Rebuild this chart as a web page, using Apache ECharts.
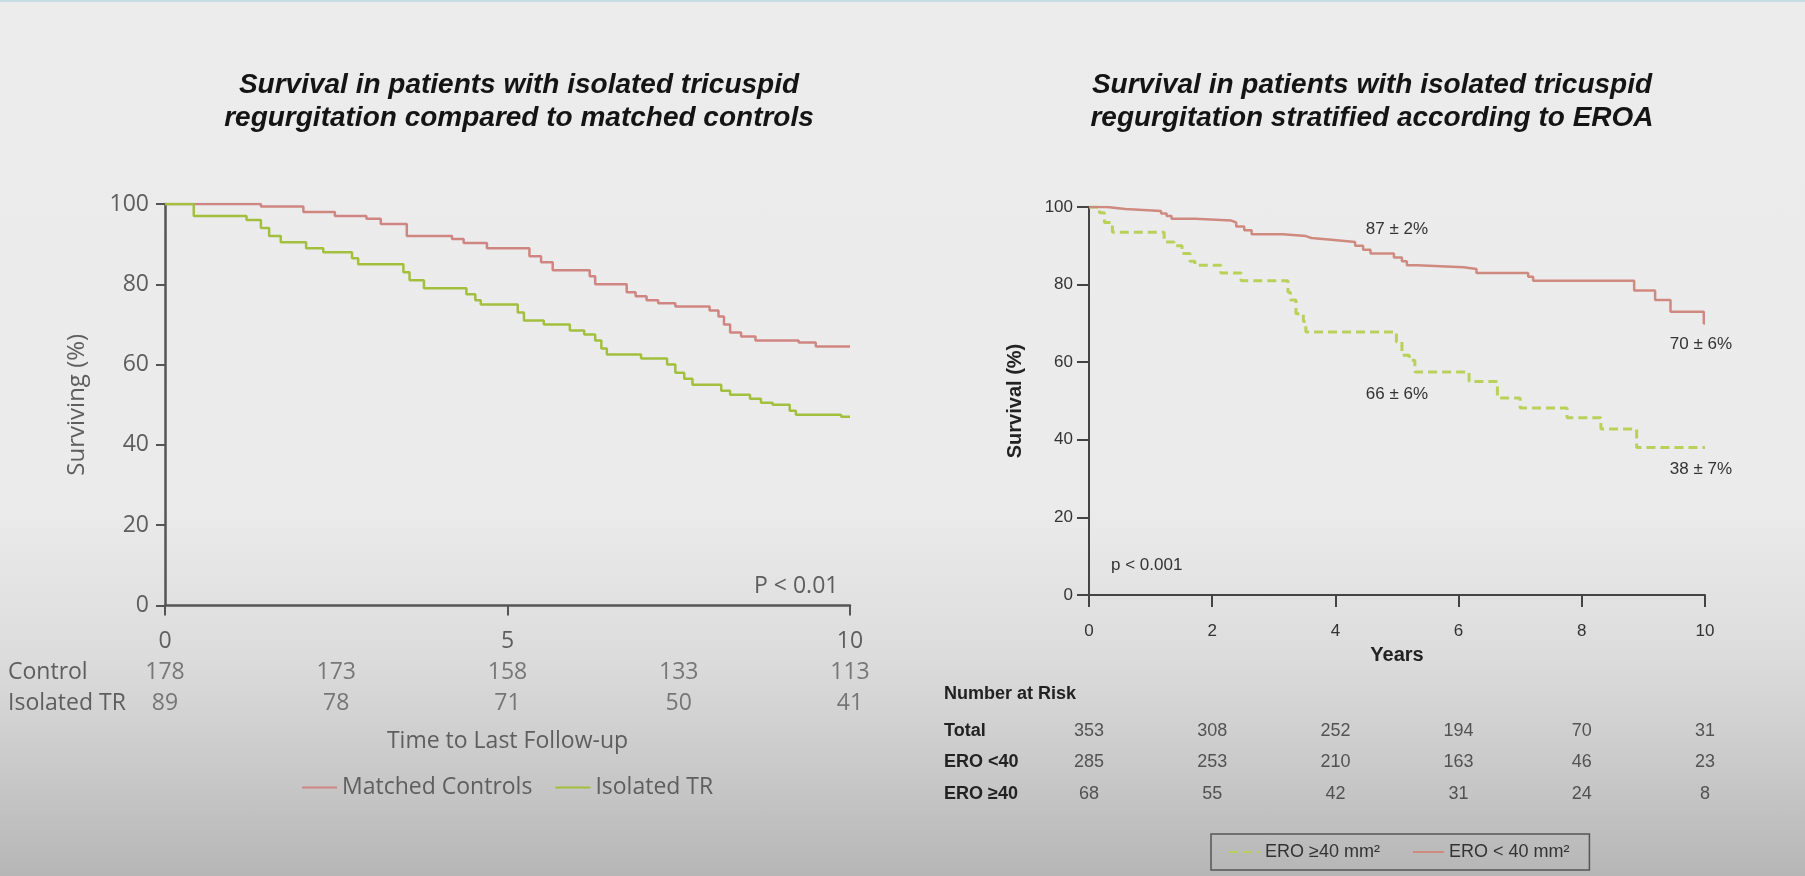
<!DOCTYPE html>
<html>
<head>
<meta charset="utf-8">
<script src="https://cdn.jsdelivr.net/npm/echarts@6/dist/echarts.min.js"></script>
<style>
  html, body { margin: 0; padding: 0; }
  body {
    width: 1805px; height: 876px; overflow: hidden;
    background: linear-gradient(to bottom, #ececec 0%, #ebebeb 58%, #dcdcdc 75%, #c9c9c9 88%, #b6b6b6 100%);
  }
  #topline { position: absolute; left: 0; top: 0; width: 1805px; height: 2px; background: #c6dce2; }
  #chart { width: 1805px; height: 876px; }
</style>
</head>
<body>
<div id="topline"></div>
<div id="chart"></div>
<script>
// left panel: isolated TR vs matched controls (Kaplan-Meier steps)
const ctrlTime = [0, 1.40, 2.02, 2.48, 2.94, 3.15, 3.53, 4.19, 4.36, 4.70, 5.32, 5.49, 5.66, 6.20, 6.28, 6.74, 6.87, 7.03, 7.20, 7.45, 7.95, 8.08, 8.16, 8.25, 8.41, 8.62, 9.25, 9.50, 10];
const ctrlSurv = [100, 99.4, 98, 97, 96.3, 95, 92, 91.3, 90.3, 89, 87, 85.5, 83.5, 82, 80, 78, 77, 76, 75.3, 74.5, 73.5, 72, 70, 68, 67, 66, 65.5, 64.5, 64.5];
const trTime = [0, 0.42, 1.19, 1.40, 1.52, 1.69, 2.06, 2.31, 2.73, 2.82, 3.48, 3.57, 3.78, 4.40, 4.53, 4.61, 5.15, 5.24, 5.53, 5.91, 6.12, 6.28, 6.37, 6.45, 6.95, 7.33, 7.45, 7.58, 7.70, 8.12, 8.25, 8.54, 8.70, 8.87, 9.12, 9.21, 9.87, 10];
const trSurv = [100, 97, 96, 94, 92, 90.5, 89, 88, 86.5, 85, 83, 81, 79, 77.5, 76, 75, 73, 71, 70, 68.5, 67.5, 66, 64, 62.5, 61.5, 60, 58, 56.5, 55, 53.5, 52.5, 51.5, 50.5, 50, 48.5, 47.5, 47, 47];

const riskTimesLeft = [0, 2.5, 5, 7.5, 10];
const riskControl = [178, 173, 158, 133, 113];
const riskIsolated = [89, 78, 71, 50, 41];

// right panel: stratified by EROA
const lowTime = [0, 0.29, 0.59, 1.17, 1.26, 1.34, 1.72, 2.31, 2.39, 2.52, 2.64, 3.15, 3.52, 3.61, 3.98, 4.32, 4.45, 4.57, 4.95, 5.08, 5.16, 5.33, 6.08, 6.29, 7.13, 7.21, 8.85, 9.19, 9.44, 9.98, 10];
const lowSurv = [100, 99.5, 99, 98.3, 97.7, 97, 96.5, 96, 95, 94, 93, 92.5, 92, 91.5, 91, 90, 89, 88, 87, 86, 85, 84.5, 84, 83, 82, 81, 78.5, 76, 73, 70, 70];
const highTime = [0, 0.17, 0.25, 0.38, 1.22, 1.38, 1.51, 1.64, 1.72, 2.14, 2.47, 3.23, 3.27, 3.36, 3.48, 3.52, 4.99, 5.08, 5.20, 5.29, 6.17, 6.63, 7.00, 7.76, 8.31, 8.89, 10];
const highSurv = [100, 98.5, 96, 93.5, 91, 90, 88, 86, 85, 83, 81, 78, 76, 72.5, 70.5, 67.8, 65.2, 61.8, 60.5, 57.5, 55, 50.8, 48.2, 45.7, 42.8, 38, 38];

const riskTimesRight = [0, 2, 4, 6, 8, 10];
const riskTotal = [353, 308, 252, 194, 70, 31];
const riskLow = [285, 253, 210, 163, 46, 23];
const riskHigh = [68, 55, 42, 31, 24, 8];

const LF = '"Open Sans", "Liberation Sans", sans-serif';
const RF = '"Liberation Sans", Arial, sans-serif';
const leftGrey = '#5e5e5e';
const rightDark = '#333';

const zip = (xs, ys) => xs.map((x, i) => [x, ys[i]]);
const riskRow = (times, vals, row) => times.map((t, i) => [t, row, vals[i]]);

const chart = echarts.init(document.getElementById('chart'), null, { renderer: 'canvas' });

const hiddenX = (idx) => ({
  type: 'value', gridIndex: idx, min: 0, max: 10,
  axisLine: { show: false }, axisTick: { show: false }, axisLabel: { show: false }, splitLine: { show: false }
});

const riskScatter = (name, x, y, data, font, size, color) => ({
  name, type: 'scatter', xAxisIndex: x, yAxisIndex: y, data,
  symbolSize: 1, itemStyle: { color: 'rgba(0,0,0,0)' }, silent: true,
  label: { show: true, position: 'inside', formatter: (p) => p.data[2], fontFamily: font, fontSize: size, color }
});

const titleStyle = { fontFamily: '"Liberation Sans", Arial, sans-serif', fontStyle: 'italic', fontWeight: 'bold', fontSize: 28, lineHeight: 33, color: '#141414' };

const option = {
  animation: false,
  backgroundColor: 'transparent',
  title: [
    {
      text: 'Survival in patients with isolated tricuspid\nregurgitation compared to matched controls',
      left: 514, top: 64, textAlign: 'center', textStyle: titleStyle
    },
    {
      text: 'Survival in patients with isolated tricuspid\nregurgitation stratified according to EROA',
      left: 1367, top: 64, textAlign: 'center', textStyle: titleStyle
    }
  ],
  legend: [
    {
      data: ['Matched Controls', 'Isolated TR'],
      left: 296, top: 771, itemWidth: 35, itemHeight: 14, itemGap: 22,
      itemStyle: { color: 'rgba(0,0,0,0)', borderWidth: 0 },
      textStyle: { fontFamily: LF, fontSize: 23, color: leftGrey }
    },
    {
      data: ['ERO \u226540 mm\u00b2', 'ERO < 40 mm\u00b2'],
      left: 1211, top: 834, itemWidth: 31, itemHeight: 12, itemGap: 32,
      padding: [9, 20, 9, 17],
      borderColor: '#555', borderWidth: 1.5,
      itemStyle: { color: 'rgba(0,0,0,0)', borderWidth: 0 },
      textStyle: { fontFamily: RF, fontSize: 18, color: rightDark }
    }
  ],
  grid: [
    { left: 165, right: 955, top: 204, bottom: 270.5 },
    { left: 165, width: 685, top: 657, height: 62 },
    { left: 1089, right: 100, top: 207, bottom: 281 },
    { left: 1089, right: 100, top: 715, height: 95 }
  ],
  xAxis: [
    {
      type: 'value', gridIndex: 0, min: 0, max: 10, interval: 5,
      axisLine: { lineStyle: { color: '#555', width: 2.5 } },
      axisTick: { show: true, length: 10, lineStyle: { color: '#555', width: 2 } },
      axisLabel: { margin: 24, fontFamily: LF, fontSize: 23, color: leftGrey },
      splitLine: { show: false }
    },
    Object.assign(hiddenX(1), {
      name: 'Time to Last Follow-up', nameLocation: 'middle', nameGap: 11,
      nameTextStyle: { fontFamily: LF, fontSize: 23, color: leftGrey }
    }),
    {
      type: 'value', gridIndex: 2, min: 0, max: 10, interval: 2,
      name: 'Years', nameLocation: 'middle', nameGap: 50,
      nameTextStyle: { fontFamily: RF, fontWeight: 'bold', fontSize: 20, color: '#222' },
      axisLine: { lineStyle: { color: '#444', width: 2 } },
      axisTick: { show: true, length: 12, lineStyle: { color: '#444', width: 2 } },
      axisLabel: { margin: 28, fontFamily: RF, fontSize: 17, color: rightDark },
      splitLine: { show: false }
    },
    hiddenX(3)
  ],
  yAxis: [
    {
      type: 'value', gridIndex: 0, min: 0, max: 100, interval: 20,
      name: 'Surviving (%)', nameLocation: 'middle', nameGap: 76,
      nameTextStyle: { fontFamily: LF, fontSize: 24, color: leftGrey },
      axisLine: { show: true, lineStyle: { color: '#555', width: 2.5 } },
      axisTick: { show: true, length: 9, lineStyle: { color: '#555', width: 2 } },
      axisLabel: { margin: 16, fontFamily: LF, fontSize: 23, color: leftGrey },
      splitLine: { show: false }
    },
    {
      type: 'category', gridIndex: 1, inverse: true, data: ['Control', 'Isolated TR'],
      axisLine: { show: false }, axisTick: { show: false }, splitLine: { show: false },
      axisLabel: { align: 'left', margin: 157, fontFamily: LF, fontSize: 23, color: leftGrey }
    },
    {
      type: 'value', gridIndex: 2, min: 0, max: 100, interval: 20,
      name: 'Survival (%)', nameLocation: 'middle', nameGap: 64,
      nameTextStyle: { fontFamily: RF, fontWeight: 'bold', fontSize: 20, color: '#222' },
      axisLine: { show: true, lineStyle: { color: '#444', width: 2 } },
      axisTick: { show: true, length: 12, lineStyle: { color: '#444', width: 2 } },
      axisLabel: { margin: 16, fontFamily: RF, fontSize: 17, color: rightDark },
      splitLine: { show: false }
    },
    {
      type: 'category', gridIndex: 3, inverse: true, data: ['Total', 'ERO <40', 'ERO \u226540'],
      axisLine: { show: false }, axisTick: { show: false }, splitLine: { show: false },
      axisLabel: { align: 'left', margin: 145, fontFamily: RF, fontWeight: 'bold', fontSize: 18, color: '#222' }
    }
  ],
  series: [
    {
      name: 'Matched Controls', type: 'line', step: 'end', xAxisIndex: 0, yAxisIndex: 0,
      data: zip(ctrlTime, ctrlSurv), symbol: 'none', color: '#cf8682',
      lineStyle: { width: 2.5, color: '#cf8682' }
    },
    {
      name: 'Isolated TR', type: 'line', step: 'end', xAxisIndex: 0, yAxisIndex: 0,
      data: zip(trTime, trSurv), symbol: 'none', color: '#a3bf3e',
      lineStyle: { width: 2.5, color: '#a3bf3e' }
    },
    {
      name: 'ERO \u226540 mm\u00b2', type: 'line', step: 'end', xAxisIndex: 2, yAxisIndex: 2,
      data: zip(highTime, highSurv), symbol: 'none', color: '#b9d15a',
      lineStyle: { width: 3, color: '#b9d15a', type: [9, 5] }
    },
    {
      name: 'ERO < 40 mm\u00b2', type: 'line', step: 'end', xAxisIndex: 2, yAxisIndex: 2,
      data: zip(lowTime, lowSurv), symbol: 'none', color: '#cf8a80',
      lineStyle: { width: 2.5, color: '#cf8a80' }
    },
    riskScatter('riskControl', 1, 1, riskRow(riskTimesLeft, riskControl, 'Control'), LF, 23, leftGrey),
    riskScatter('riskIsolated', 1, 1, riskRow(riskTimesLeft, riskIsolated, 'Isolated TR'), LF, 23, leftGrey),
    riskScatter('riskTotal', 3, 3, riskRow(riskTimesRight, riskTotal, 'Total'), RF, 18, rightDark),
    riskScatter('riskLow', 3, 3, riskRow(riskTimesRight, riskLow, 'ERO <40'), RF, 18, rightDark),
    riskScatter('riskHigh', 3, 3, riskRow(riskTimesRight, riskHigh, 'ERO \u226540'), RF, 18, rightDark)
  ],
  graphic: [
    { type: 'text', style: { text: 'P < 0.01', x: 754, y: 586, verticalAlign: 'middle', font: '23px ' + LF, fill: leftGrey } },
    { type: 'text', style: { text: 'p < 0.001', x: 1111, y: 565, verticalAlign: 'middle', font: '17px ' + RF, fill: rightDark } },
    { type: 'text', style: { text: '87 \u00b1 2%', x: 1397, y: 229, align: 'center', verticalAlign: 'middle', font: '17px ' + RF, fill: rightDark } },
    { type: 'text', style: { text: '66 \u00b1 6%', x: 1397, y: 394, align: 'center', verticalAlign: 'middle', font: '17px ' + RF, fill: rightDark } },
    { type: 'text', style: { text: '70 \u00b1 6%', x: 1701, y: 344, align: 'center', verticalAlign: 'middle', font: '17px ' + RF, fill: rightDark } },
    { type: 'text', style: { text: '38 \u00b1 7%', x: 1701, y: 469, align: 'center', verticalAlign: 'middle', font: '17px ' + RF, fill: rightDark } },
    { type: 'text', style: { text: 'Number at Risk', x: 944, y: 694, verticalAlign: 'middle', font: 'bold 18px ' + RF, fill: '#222' } }
  ]
};

chart.setOption(option);
</script>
</body>
</html>
